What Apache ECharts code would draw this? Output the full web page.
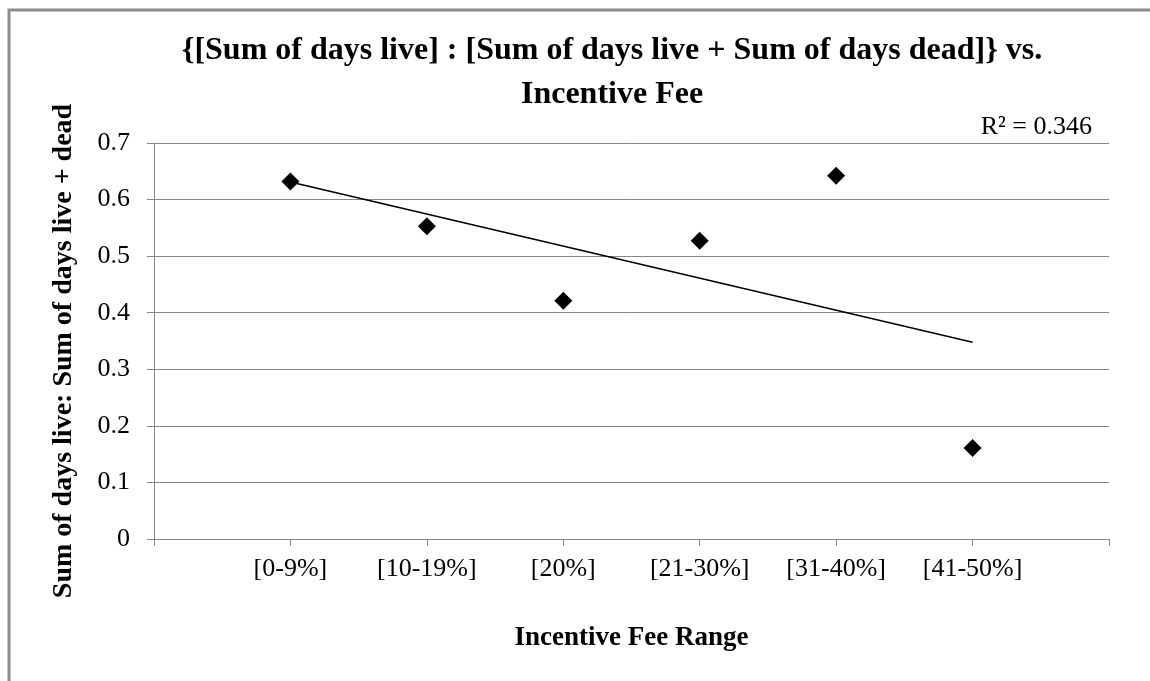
<!DOCTYPE html>
<html>
<head>
<meta charset="utf-8">
<script src="https://cdn.jsdelivr.net/npm/echarts@6/dist/echarts.min.js"></script>
<style>
html,body{margin:0;padding:0;background:#fff;}
#chart{width:1150px;height:681px;}
</style>
</head>
<body>
<div id="chart"></div>
<script>
// ---- data ----
const categories = ['[0-9%]', '[10-19%]', '[20%]', '[21-30%]', '[31-40%]', '[41-50%]'];
const ratioValues = [0.632, 0.553, 0.421, 0.527, 0.642, 0.161];
const yTickLabels = ['0', '0.1', '0.2', '0.3', '0.4', '0.5', '0.6', '0.7'];
const titleLines = ['{[Sum of days live] : [Sum of days live + Sum of days dead]} vs.', 'Incentive Fee'];
const r2Label = 'R\u00B2 = 0.346';
const xAxisName = 'Incentive Fee Range';
const yAxisName = 'Sum of days live: Sum of days live + dead';

// ---- derived ----
const points = ratioValues.map((v, i) => [i + 1, v]);
const n = points.length;
const mx = points.reduce((s, p) => s + p[0], 0) / n;
const my = points.reduce((s, p) => s + p[1], 0) / n;
let sxy = 0, sxx = 0;
points.forEach(p => { sxy += (p[0] - mx) * (p[1] - my); sxx += (p[0] - mx) * (p[0] - mx); });
const slope = sxy / sxx;
const intercept = my - slope * mx;
const trend = [[1, intercept + slope * 1], [n, intercept + slope * n]];

const FONT = '"Liberation Serif", "Times New Roman", serif';
const GRID_COLOR = '#868686';

const chart = echarts.init(document.getElementById('chart'), null, {renderer: 'canvas'});
chart.setOption({
  backgroundColor: '#ffffff',
  animation: false,
  graphic: [
    {type: 'rect', z: -10, shape: {x: 9, y: 10, width: 1300, height: 900},
     style: {fill: 'none', stroke: '#8c8c8c', lineWidth: 3}},
    {type: 'text', x: 612, y: 51,
     style: {text: titleLines[0], font: 'bold 32px ' + FONT, fill: '#000', textAlign: 'center', textVerticalAlign: 'middle'}},
    {type: 'text', x: 612, y: 95,
     style: {text: titleLines[1], font: 'bold 32px ' + FONT, fill: '#000', textAlign: 'center', textVerticalAlign: 'middle'}},
    {type: 'text', x: 1092, y: 127,
     style: {text: r2Label, font: '26px ' + FONT, fill: '#000', textAlign: 'right', textVerticalAlign: 'middle'}}
  ],
  grid: {left: 154, right: 41, top: 143, bottom: 142, containLabel: false},
  xAxis: {
    type: 'value', min: 0, max: 7, interval: 1,
    name: xAxisName, nameLocation: 'middle', nameGap: 86,
    nameTextStyle: {fontFamily: FONT, fontSize: 27, fontWeight: 'bold', color: '#000'},
    axisLine: {show: true, lineStyle: {color: GRID_COLOR, width: 1}},
    axisTick: {show: true, length: 7, lineStyle: {color: GRID_COLOR}},
    splitLine: {show: false},
    axisLabel: {
      fontFamily: FONT, fontSize: 26, color: '#000', margin: 17,
      formatter: v => (v >= 1 && v <= categories.length) ? categories[v - 1] : ''
    }
  },
  yAxis: {
    type: 'value', min: 0, max: 0.7, interval: 0.1,
    name: yAxisName, nameLocation: 'middle', nameGap: 76, nameRotate: 90,
    nameTextStyle: {fontFamily: FONT, fontSize: 28, fontWeight: 'bold', color: '#000', padding: [0, 20, 0, 0]},
    axisLine: {show: true, lineStyle: {color: GRID_COLOR, width: 1}},
    axisTick: {show: true, length: 7, lineStyle: {color: GRID_COLOR}},
    splitLine: {show: true, lineStyle: {color: GRID_COLOR, width: 1}},
    axisLabel: {
      fontFamily: FONT, fontSize: 26, color: '#000', margin: 24,
      formatter: v => yTickLabels[Math.round(v * 10)]
    }
  },
  series: [
    {
      type: 'line', data: trend, symbol: 'none', silent: true,
      lineStyle: {color: '#000', width: 1.5}, z: 2
    },
    {
      type: 'scatter', data: points, symbol: 'diamond', symbolSize: 18,
      itemStyle: {color: '#000', opacity: 1}, z: 3
    }
  ]
});
</script>
</body>
</html>
